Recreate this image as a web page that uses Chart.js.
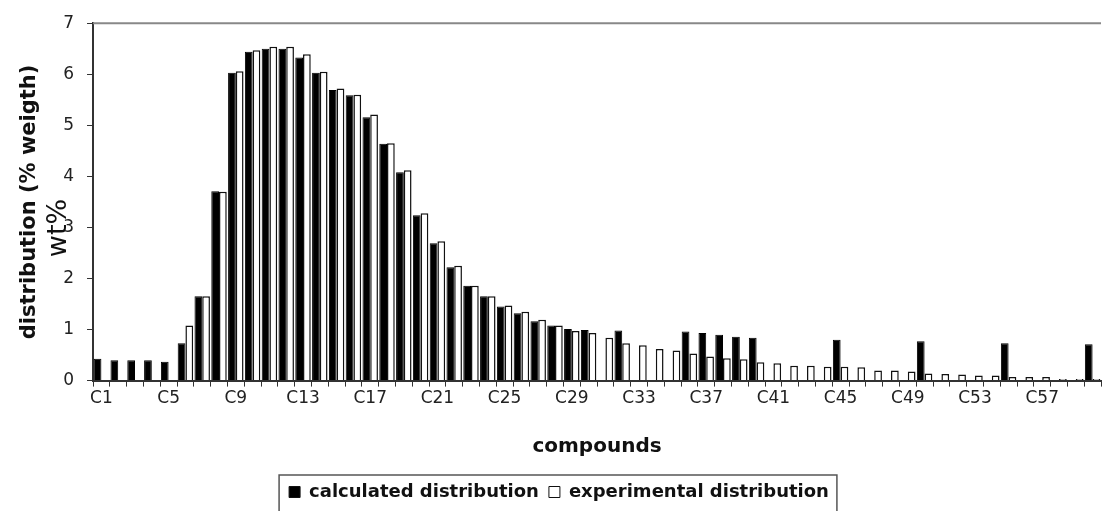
<!DOCTYPE html>
<html>
<head>
<meta charset="utf-8">
<script src="https://cdn.jsdelivr.net/npm/chart.js@4"></script>
<style>
  html, body { margin: 0; padding: 0; background: #fff; }
  #wrap { width: 1111px; height: 511px; }
</style>
</head>
<body>
<div id="wrap"><canvas id="myChart" width="1111" height="511"></canvas></div>
<script>
// compounds C1..C60
var compounds = [];
for (var i = 1; i <= 60; i++) compounds.push('C' + i);

// values (wt%)
var calculated = [
  0.43, 0.40, 0.40, 0.40, 0.37, 0.73, 1.65, 3.71, 6.03, 6.44,
  6.50, 6.50, 6.33, 6.03, 5.69, 5.59, 5.16, 4.64, 4.08, 3.24,
  2.69, 2.22, 1.86, 1.65, 1.45, 1.32, 1.16, 1.08, 1.01, 0.99,
  0, 0.98, 0, 0, 0, 0.96, 0.93, 0.90, 0.86, 0.84,
  0, 0, 0, 0, 0.80, 0, 0, 0, 0, 0.77,
  0, 0, 0, 0, 0.73, 0, 0, 0, 0, 0.71
];
var experimental = [
  0, 0, 0, 0, 0, 1.08, 1.65, 3.70, 6.06, 6.47,
  6.54, 6.54, 6.39, 6.05, 5.72, 5.60, 5.21, 4.65, 4.12, 3.28,
  2.73, 2.25, 1.86, 1.65, 1.47, 1.35, 1.19, 1.08, 0.97, 0.93,
  0.84, 0.73, 0.69, 0.62, 0.59, 0.53, 0.47, 0.44, 0.42, 0.36,
  0.34, 0.29, 0.29, 0.27, 0.27, 0.26, 0.20, 0.20, 0.18, 0.14,
  0.13, 0.12, 0.10, 0.10, 0.07, 0.07, 0.07, 0.03, 0.03, 0.03
];
var seriesNames = ['calculated distribution', 'experimental distribution'];
var yTitle = 'distribution (% weigth)';
var xTitle = 'compounds';
var overlayLabel = 'wt%';

var fam = "'DejaVu Sans', Arial, sans-serif";

// top frame line, legend border and the stray "wt%" label
var extras = {
  id: 'extras',
  afterDraw: function(chart) {
    var ctx = chart.ctx, a = chart.chartArea;
    ctx.save();
    ctx.strokeStyle = '#888';
    ctx.lineWidth = 2;
    ctx.beginPath();
    ctx.moveTo(a.left, a.top);
    ctx.lineTo(a.right, a.top);
    ctx.stroke();

    var lg = chart.legend;
    if (lg && lg.legendHitBoxes && lg.legendHitBoxes.length) {
      var hb = lg.legendHitBoxes;
      var l = hb[0].left - 10;
      var last = hb[hb.length - 1];
      var r = last.left + last.width + 8;
      ctx.strokeStyle = '#555';
      ctx.lineWidth = 1.5;
      ctx.strokeRect(l, hb[0].top - 8, r - l, 60);
    }

    ctx.translate(59, 228);
    ctx.rotate(-Math.PI / 2);
    ctx.fillStyle = '#111';
    ctx.font = '27px ' + fam;
    ctx.textAlign = 'center';
    ctx.textBaseline = 'middle';
    ctx.fillText(overlayLabel, 0, 0);
    ctx.restore();
  }
};

var canvas = document.getElementById('myChart');

var chart = new Chart(canvas, {
  type: 'bar',
  data: {
    labels: compounds,
    datasets: [{
      label: seriesNames[0],
      data: calculated,
      backgroundColor: '#000',
      borderColor: '#000',
      borderWidth: 1,
      borderSkipped: 'bottom',
      categoryPercentage: 0.92,
      barPercentage: 1.0
    }, {
      label: seriesNames[1],
      data: experimental,
      backgroundColor: '#fff',
      borderColor: '#111',
      borderWidth: 1.5,
      borderSkipped: 'bottom',
      categoryPercentage: 0.92,
      barPercentage: 1.0
    }]
  },
  options: {
    responsive: false,
    animation: false,
    layout: { padding: { left: 17, right: 10, top: 19, bottom: 0 } },
    plugins: {
      tooltip: { enabled: false },
      legend: {
        position: 'bottom',
        labels: {
          color: '#111',
          font: { family: fam, size: 18, weight: 'bold' },
          boxWidth: 11,
          boxHeight: 11,
          padding: 10,
          generateLabels: function(chart) {
            return chart.data.datasets.map(function(ds, i) {
              return {
                text: ds.label,
                fillStyle: ds.backgroundColor,
                strokeStyle: '#111',
                lineWidth: 1,
                datasetIndex: i,
                fontColor: '#111'
              };
            });
          }
        }
      }
    },
    scales: {
      x: {
        grid: {
          drawOnChartArea: false,
          drawTicks: true,
          tickLength: 6,
          color: '#333'
        },
        border: { color: '#333', width: 2 },
        ticks: {
          autoSkip: false,
          maxRotation: 0,
          padding: 2,
          color: '#222',
          font: { family: fam, size: 17 },
          callback: function(v, idx) {
            return idx % 4 === 0 ? compounds[idx] : '';
          }
        },
        title: {
          display: true,
          text: xTitle,
          color: '#111',
          font: { family: fam, size: 20, weight: 'bold' },
          padding: { top: 24, bottom: 14 }
        }
      },
      y: {
        min: 0,
        max: 7,
        grid: {
          drawOnChartArea: false,
          drawTicks: true,
          tickLength: 6,
          color: '#333'
        },
        border: { color: '#333', width: 2 },
        ticks: {
          stepSize: 1,
          padding: 13,
          color: '#222',
          font: { family: fam, size: 17 }
        },
        title: {
          display: true,
          text: yTitle,
          color: '#111',
          font: { family: fam, size: 21, weight: 'bold' },
          padding: { top: 0, bottom: 8 }
        }
      }
    }
  },
  plugins: [extras]
});
</script>
</body>
</html>
